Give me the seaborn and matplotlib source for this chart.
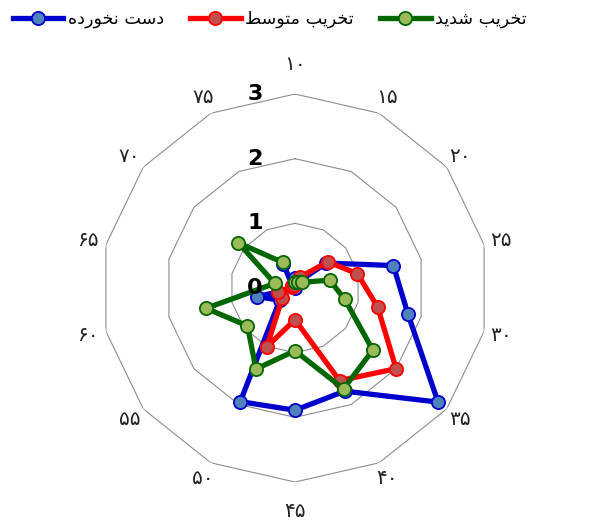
import numpy as np
import pandas as pd
import seaborn as sns
import matplotlib.pyplot as plt
from matplotlib.transforms import offset_copy

# categories (Persian digits) and the three series
categories = ['۱۰', '۱۵', '۲۰', '۲۵', '۳۰', '۳۵', '۴۰', '۴۵', '۵۰', '۵۵', '۶۰', '۶۵', '۷۰', '۷۵']
intact = [0.15, 0.10, 0.62, 1.56, 1.79, 2.83, 1.77, 1.89, 1.95, 0.30, 0.60, 0.00, 0.05, 0.42]
moderate = [0.07, 0.19, 0.65, 0.99, 1.31, 2.00, 1.59, 0.49, 1.01, 0.25, 0.27, 0.05, 0.05, 0.05]
severe = [0.10, 0.10, 0.14, 0.55, 0.79, 1.54, 1.73, 0.97, 1.39, 0.94, 1.41, 0.32, 1.12, 0.44]
rings = [1, 2, 3]

# series names, pre-shaped (presentation forms, visual order) since matplotlib has no bidi
names = ['ﻩﺩﺭﻮﺨﻧ ﺖﺳﺩ', 'ﻂﺳﻮﺘﻣ ﺐﻳﺮﺨﺗ', 'ﺪﻳﺪﺷ ﺐﻳﺮﺨﺗ']  # دست نخورده / تخریب متوسط / تخریب شدید
line_colors = ['#0000CC', '#FF0000', '#006600']
face_colors = ['#4F81BD', '#C0504D', '#9BBB59']

plt.rcParams['font.family'] = ['DejaVu Sans']

n = len(categories)
theta = np.arange(n) * 2 * np.pi / n
theta_closed = np.append(theta, theta[0])

fig = plt.figure(figsize=(5.92, 5.22), dpi=100)
ax = fig.add_axes([0.1706, 0.0766, 0.6554, 0.7433], projection='polar')
ax.set_theta_zero_location('N')
ax.set_theta_direction(-1)
ax.set_ylim(0, 3)
ax.grid(False)
ax.set_frame_on(False)
ax.set_xticks([])
ax.set_yticks([])

# polygon gridlines
for r in rings:
    ax.plot(theta_closed, [r] * (n + 1), color='#8c8c8c', lw=0.8, zorder=1)

handles = []
for name, vals, lc, fc in zip(names, [intact, moderate, severe], line_colors, face_colors):
    df = pd.DataFrame({'theta': theta_closed, 'value': vals + vals[:1]})
    sns.lineplot(data=df, x='theta', y='value', sort=False, ax=ax, color=lc, lw=3.8,
                 marker='o', markersize=9.5, markerfacecolor=fc, markeredgecolor=lc,
                 markeredgewidth=1.3, label=name, legend=False, zorder=3)
    handles.append(ax.lines[-1])
ax.set_xlabel('')
ax.set_ylabel('')

# category labels outside the outer ring
for t, lab in zip(theta, categories):
    r_lab = 3.45 if abs(np.cos(t)) > 0.99 else 3.27
    ax.text(t, r_lab, lab, ha='center', va='center', fontsize=14.5, color='#222222')

# radial value labels, just left of the vertical axis
shift = offset_copy(ax.transData, fig=fig, x=-32, y=0, units='dots')
for r in [0] + rings:
    ax.text(0, r, str(r), transform=shift, ha='right', va='center',
            fontsize=16, fontweight='bold', color='black')

fig.legend(handles, names, loc='upper left', bbox_to_anchor=(0.005, 1.0), ncol=3,
           frameon=False, fontsize=12.6, handlelength=2.9, handletextpad=0.25,
           columnspacing=1.5, borderaxespad=0.15)

fig.savefig('out.png', dpi=100)
